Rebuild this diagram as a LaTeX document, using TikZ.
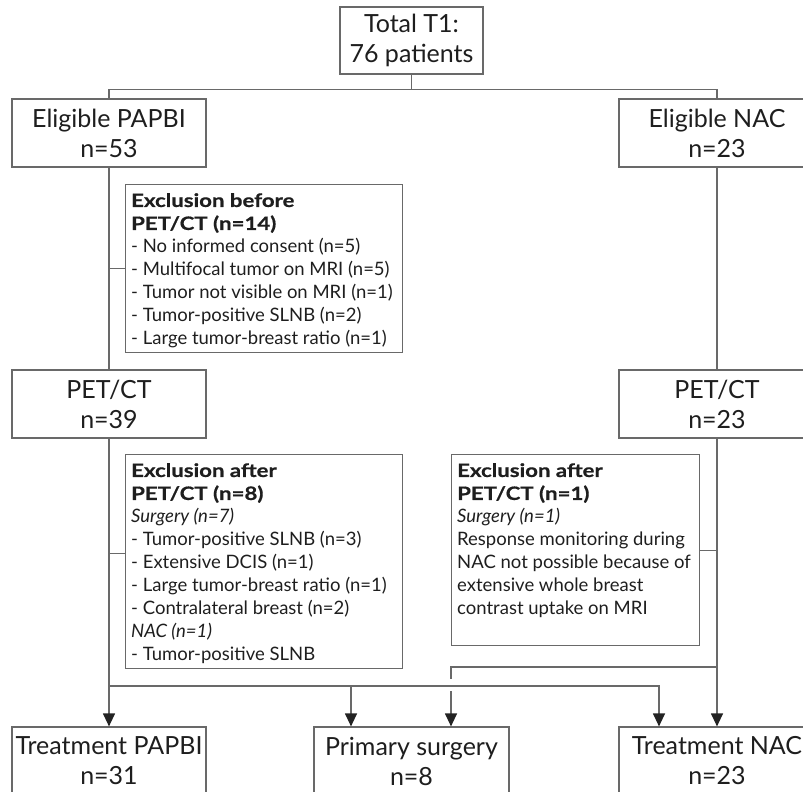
\documentclass[tikz,border=0pt]{standalone}
\usepackage{fontspec}
\setmainfont{Lato}
\newfontfamily\exbf{Lato}[FakeStretch=1.2, FakeBold=0.6]
\usetikzlibrary{arrows.meta,calc}
\definecolor{ln}{RGB}{105,105,105}
\definecolor{tx}{RGB}{30,30,30}
\definecolor{ah}{RGB}{35,35,35}
\newcommand{\hd}[1]{{\exbf\bfseries #1}}
\begin{document}
\begin{tikzpicture}[x=1pt,y=-1pt,
  mainbox/.style={draw=ln, line width=1.2pt, minimum width=194pt, minimum height=68pt, align=center, text=tx, font=\fontsize{25}{30}\selectfont, inner sep=0pt},
  exbox/.style={draw=ln, line width=1.2pt, anchor=north west, inner sep=0pt},
  extext/.style={anchor=north west, align=left, text=tx, font=\fontsize{18.5}{23}\selectfont, inner sep=0pt},
  conn/.style={draw=ln, line width=1.2pt},
  arr/.style={conn, -{Triangle[length=13pt,width=12pt,color=ah]}}
]
\useasboundingbox (0,0) rectangle (803,792);
\clip (0,0) rectangle (803,792);

% main boxes
\node[mainbox, minimum width=143pt, minimum height=67pt] (top) at (411.5,40.5) {Total T1:\\76 patients};
\node[mainbox] (elP) at (109,133) {Eligible PAPBI\\n=53};
\node[mainbox, minimum width=196pt] (elN) at (717,133) {Eligible NAC\\n=23};
\node[mainbox] (petP) at (109,404) {PET/CT\\n=39};
\node[mainbox, minimum width=196pt] (petN) at (717,404) {PET/CT\\n=23};
\node[mainbox] (trP) at (109,761) {Treatment PAPBI\\n=31};
\node[mainbox, minimum width=195pt] (trS) at (411.5,761) {Primary surgery\\n=8};
\node[mainbox, minimum width=196pt] (trN) at (717,761) {Treatment NAC\\n=23};

% exclusion boxes
\node[exbox, minimum width=277pt, minimum height=168pt] (exB) at (125,184) {};
\node[extext] (exBt) at ([xshift=6pt,yshift=-9pt]exB.north west) {%
\hd{Exclusion before}\\
\hd{PET/CT (n=14)}\\
- No informed consent (n=5)\\
- Multifocal tumor on MRI (n=5)\\
- Tumor not visible on MRI (n=1)\\
- Tumor-positive SLNB (n=2)\\
- Large tumor-breast ratio (n=1)};

\node[exbox, minimum width=277pt, minimum height=214pt] (exAL) at (125,454) {};
\node[extext] (exALt) at ([xshift=6pt,yshift=-9pt]exAL.north west) {%
\hd{Exclusion after}\\
\hd{PET/CT (n=8)}\\
\textit{Surgery (n=7)}\\
- Tumor-positive SLNB (n=3)\\
- Extensive DCIS (n=1)\\
- Large tumor-breast ratio (n=1)\\
- Contralateral breast (n=2)\\
\textit{NAC (n=1)}\\
- Tumor-positive SLNB};

\node[exbox, minimum width=248pt, minimum height=191pt] (exAR) at (451,454) {};
\node[extext] (exARt) at ([xshift=6pt,yshift=-9pt]exAR.north west) {%
\hd{Exclusion after}\\
\hd{PET/CT (n=1)}\\
\textit{Surgery (n=1)}\\
Response monitoring during\\
NAC not possible because of\\
extensive whole breast\\
contrast uptake on MRI};

% connectors
\draw[conn] (top.south) -- ++(0,15) coordinate (jT);
\draw[conn] (elP.north) |- (jT) -| (elN.north);
\draw[conn] (elP.south) -- (petP.north);
\draw[conn] (elN.south) -- (petN.north);
\draw[conn] (exB.west) -- (exB.west -| elP.south);
\draw[conn] ([yshift=8pt]exAL.west) -- ([yshift=8pt]exAL.west -| petP.south);
\draw[conn] (exAR.east) -- (exAR.east -| petN.south);
\draw[arr] (petP.south) -- (trP.north);
\draw[arr] (petN.south) -- (trN.north);

\coordinate (sL) at ([xshift=-60.5pt]trS.north);
\coordinate (sR) at ([xshift=39.5pt]trS.north);
\coordinate (nL) at ([xshift=-58pt]trN.north);

\draw[conn] (petN.south |- 0,667) -| ($(sR)+(0,-47)$);
\draw[arr] ($(sR)+(0,-35)$) -- (sR);
\draw[arr] (petP.south |- 0,686) -| (nL);
\draw[arr] (sL |- 0,686) -- (sL);
\end{tikzpicture}
\end{document}
